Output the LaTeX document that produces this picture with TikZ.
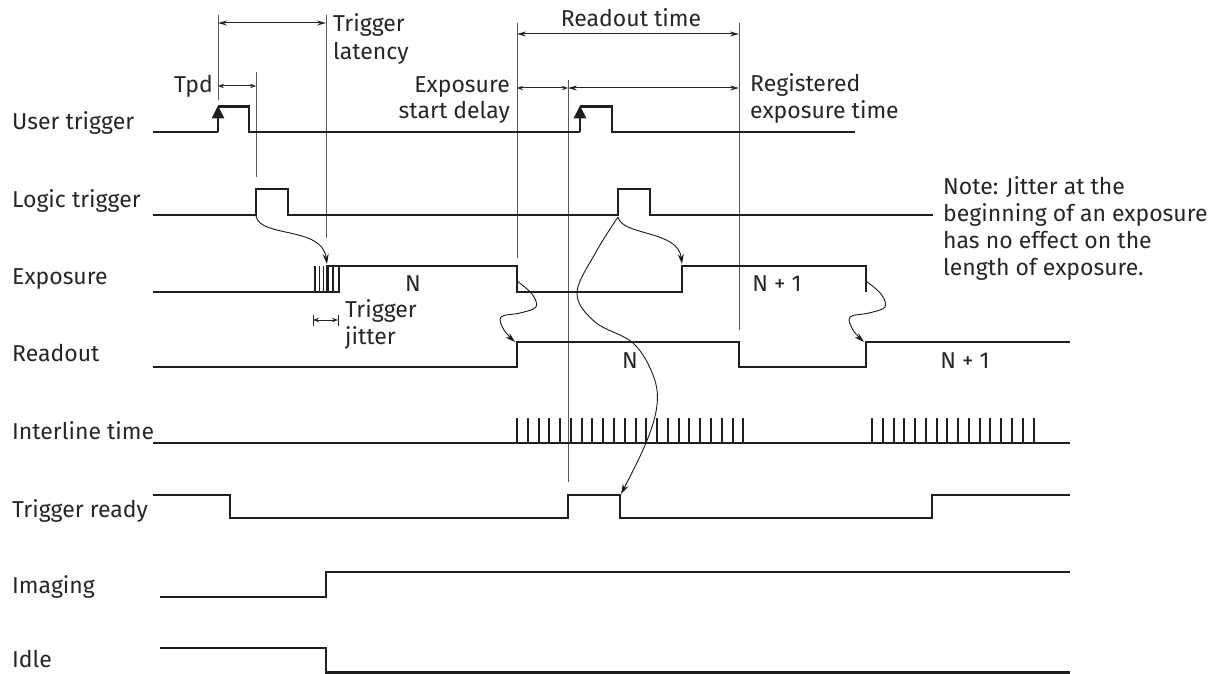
\documentclass[tikz,border=0pt]{standalone}
\usepackage{fontspec}
\setmainfont{Fira Sans}
\usetikzlibrary{arrows.meta}
\begin{document}
\begin{tikzpicture}[x=1pt,y=-1pt,
 sig/.style={line width=2.8pt, draw=black!88, line join=miter, line cap=butt},
 guide/.style={line width=1pt, draw=black!65},
 dim/.style={line width=1pt, draw=black!85, {Stealth[length=9pt,width=5pt]}-{Stealth[length=9pt,width=5pt]}},
 smalldim/.style={line width=1pt, draw=black!85, {Stealth[length=6pt,width=4.5pt]}-{Stealth[length=6pt,width=4.5pt]}},
 curv/.style={line width=0.9pt, draw=black!90, -{Stealth[length=10pt,width=6pt]}},
 uptip/.style={sig, -{Triangle[length=13pt,width=12pt]}},
 lbl/.style={font=\fontsize{23}{27}\selectfont, text=black!85, inner sep=0pt},
]
\useasboundingbox (0,0) rectangle (1220,674);

% ---- row labels
\node[lbl, anchor=base west] (lUser) at (12,129) {User trigger};
\node[lbl, anchor=base west] (lLogic) at (12,207) {Logic trigger};
\node[lbl, anchor=base west] (lExp) at (12,284) {Exposure};
\node[lbl, anchor=base west] (lRead) at (12,361) {Readout};
\node[lbl, anchor=base west] (lInter) at (12,439) {Interline time};
\node[lbl, anchor=base west] (lReady) at (12,517) {Trigger ready};
\node[lbl, anchor=base west] (lImg) at (12,593) {Imaging};
\node[lbl, anchor=base west] (lIdle) at (12,667) {Idle};

% ---- guide lines
\draw[guide] (218,15) -- (218,100);
\draw[guide] (256,72) -- (256,177);
\draw[guide] (326,15) -- (326,238);
\draw[guide] (517,23) -- (517,258);
\draw[guide] (568,80) -- (568,482);
\draw[guide] (739,23) -- (739,330);

% ---- dimension arrows
\draw[dim] (218,23) -- (326,23);
\draw[smalldim] (218,86) -- (256,86);
\draw[dim] (517,34) -- (739,34);
\draw[smalldim] (517,88) -- (568,88);
\draw[dim] (568,88) -- (739,88);
\draw[smalldim] (313,320) -- (338,320);
\draw[line width=1pt, draw=black!85] (313,315) -- (313,326) (338,315) -- (338,326);

% ---- dimension labels
\node[lbl, anchor=base east] (tTpd) at (213,93) {Tpd};
\node[lbl, anchor=base west] (tLat1) at (333,32) {Trigger};
\node[lbl, anchor=base west] (tLat2) at (333,60) {latency};
\node[lbl, anchor=base] (tRead) at (631,27) {Readout time};
\node[lbl, anchor=base east] (tEsd1) at (510,93) {Exposure};
\node[lbl, anchor=base east] (tEsd2) at (510,119) {start delay};
\node[lbl, anchor=base west] (tReg1) at (750,92) {Registered};
\node[lbl, anchor=base west] (tReg2) at (750,118) {exposure time};
\node[lbl, anchor=base west] (tJit1) at (345,317) {Trigger};
\node[lbl, anchor=base west] (tJit2) at (345,344) {jitter};
\node[lbl, anchor=base west] (n1) at (943,194) {Note: Jitter at the};
\node[lbl, anchor=base west] (n2) at (943,221) {beginning of an exposure};
\node[lbl, anchor=base west] (n3) at (943,248) {has no effect on the};
\node[lbl, anchor=base west] (n4) at (943,275) {length of exposure.};
\node[lbl, anchor=base] (eN) at (413,291) {N};
\node[lbl, anchor=base] (eN1) at (777,291) {N + 1};
\node[lbl, anchor=base] (rN) at (630,368) {N};
\node[lbl, anchor=base] (rN1) at (965,368) {N + 1};

% ---- User trigger
\draw[sig] (153,132) -- (218,132);
\draw[uptip] (218,132) -- (218,105.5);
\draw[sig] (218,106.5) -- (249,106.5) -- (249,132) -- (580,132);
\draw[uptip] (580,132) -- (580,105.5);
\draw[sig] (580,106.5) -- (612,106.5) -- (612,132) -- (855,132);

% ---- Logic trigger
\draw[sig] (153,215) -- (256,215) -- (256,189) -- (288,189) -- (288,215)
  -- (618,215) -- (618,189) -- (650,189) -- (650,215) -- (933,215);

% ---- Exposure
\draw[sig] (153,292) -- (340,292);
\foreach \x in {315,319.5,323.5,333,339} \draw[sig, line width=1.9pt] (\x,292) -- (\x,266);
\draw[sig] (327.5,292) -- (327.5,266) -- (517,266) -- (517,292) -- (682,292)
  -- (682,266) -- (866,266) -- (866,292);

% ---- Readout
\draw[sig] (153,367) -- (517,367) -- (517,342) -- (739,342) -- (739,367)
  -- (866,367) -- (866,342) -- (1070,342);

% ---- Interline time
\draw[sig] (153,443) -- (1070,443);
\foreach \i in {0,...,21} \draw[sig, line width=2pt] ({517+\i*10.78},443) -- ({517+\i*10.78},418);
\foreach \i in {0,...,15} \draw[sig, line width=2pt] ({872+\i*10.77},443) -- ({872+\i*10.77},418);

% ---- Trigger ready
\draw[sig] (153,495) -- (230,495) -- (230,518) -- (568,518) -- (568,495)
  -- (620,495) -- (620,518) -- (932,518) -- (932,495) -- (1070,495);

% ---- Imaging / Idle
\draw[sig] (160,597) -- (326,597) -- (326,572) -- (1070,572);
\draw[sig] (160,648) -- (326,648) -- (326,672.5) -- (1070,672.5);

% ---- causal curves
\coordinate (lt1) at (256,216);
\coordinate (ex1) at (327,264);
\coordinate (lt2) at (618,217);
\coordinate (ex2) at (682,264);
\coordinate (tr2) at (621,494);
\draw[curv] (lt1) .. controls (260,238) and (322,226) .. (ex1);
\draw[curv] (lt2) .. controls (622,236) and (678,230) .. (ex2);
\draw[curv] plot[smooth, tension=0.6] coordinates {(618,217) (596,252) (577,293) (595,322) (633,343) (653,375) (657,405) (646,443) (tr2)};
\draw[curv] plot[smooth, tension=0.6] coordinates {(517,281) (532,294) (536,307) (520,313) (501,317) (504,330) (515,342)};
\draw[curv] plot[smooth, tension=0.6] coordinates {(866,281) (881,294) (885,307) (869,313) (850,317) (853,330) (864,342)};
\end{tikzpicture}
\end{document}
